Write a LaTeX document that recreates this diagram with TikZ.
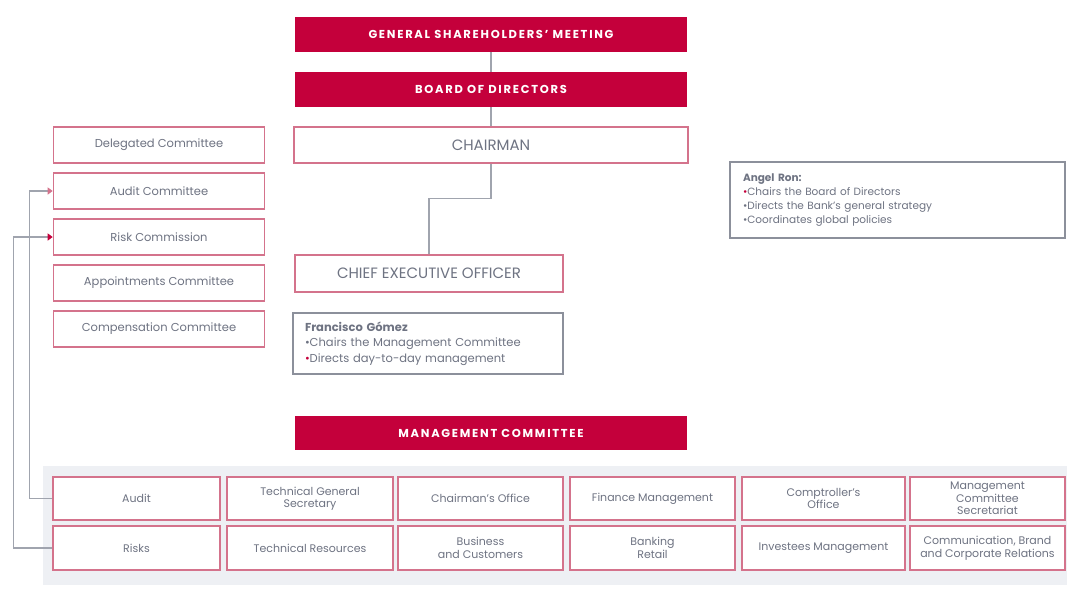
\documentclass[tikz,border=0pt]{standalone}
\usepackage{fontspec}
\setmainfont{Poppins}
\usetikzlibrary{arrows.meta}
\definecolor{bpred}{HTML}{C4003B}
\definecolor{bppink}{HTML}{D4738C}
\definecolor{bpgray}{HTML}{6E7382}
\definecolor{bpline}{HTML}{A0A4AE}
\definecolor{bpnote}{HTML}{8C909B}
\definecolor{bpband}{HTML}{EEF0F4}
\tikzstyle{head} = [rectangle, minimum width=392pt, minimum height=35pt, text centered, fill=bpred, text=white, font=\bfseries\fontsize{11.5}{13}\selectfont\addfontfeature{LetterSpace=15}]
\tikzstyle{pinkbox} = [rectangle, draw=bppink, fill=white, line width=1.6pt, text=bpgray, align=center]
\tikzstyle{topbox} = [pinkbox, minimum width=394pt, minimum height=36pt, font=\fontsize{15}{17}\selectfont]
\tikzstyle{combox} = [pinkbox, minimum width=211pt, minimum height=36pt, font=\fontsize{11.5}{13}\selectfont]
\tikzstyle{unit} = [pinkbox, minimum height=43pt, inner xsep=2pt, font=\fontsize{11}{12.5}\selectfont]
\tikzstyle{note} = [rectangle, draw=bpnote, fill=white, line width=1.6pt, text=bpgray, align=left, inner ysep=4pt]
\tikzstyle{link} = [draw=bpline, line width=1.1pt]
\tikzstyle{arrow} = [link, -{Triangle[width=7pt,length=5pt]}]

\begin{document}
\begin{tikzpicture}[x=1pt, y=-1pt, node distance=46pt]
\useasboundingbox (0,0) rectangle (1067,590);

%band behind the units
\fill [bpband] (43,466) rectangle (1067,585);

%governing bodies
\node (gsm) [head] at (491,34.5) {GENERAL SHAREHOLDERS' MEETING};
\node (board) [head, below of=gsm, yshift=-9pt] {BOARD OF DIRECTORS};
\node (chair) [topbox, below of=board, yshift=-9.5pt] {CHAIRMAN};
\node (ceo) [topbox, minimum width=268pt, minimum height=37pt] at (429,273.5) {CHIEF EXECUTIVE OFFICER};
\node (mc) [head, minimum height=34pt] at (491,433) {MANAGEMENT COMMITTEE};

%notes
\node (chairnote) [note, minimum width=335pt, minimum height=76pt, text width=309pt, font=\fontsize{10.5}{14}\selectfont] at (897.5,200)
  {\textbf{Angel Ron:}\\ \textcolor{bpred}{\textbullet}Chairs the Board of Directors\\ \textbullet Directs the Bank's general strategy\\ \textbullet Coordinates global policies};
\node (ceonote) [note, minimum width=270pt, minimum height=61pt, text width=246pt, font=\fontsize{11.5}{15.5}\selectfont] at (428,343.5)
  {\textbf{Francisco Gómez}\\ \textbullet Chairs the Management Committee\\ \textcolor{bpred}{\textbullet}Directs day-to-day management};

%board committees
\node (delcom) [combox] at (159,145) {Delegated Committee};
\node (auditcom) [combox, below of=delcom] {Audit Committee};
\node (riskcom) [combox, below of=auditcom] {Risk Commission};
\node (appcom) [combox, below of=riskcom] {Appointments Committee};
\node (compcom) [combox, below of=appcom] {Compensation Committee};

%units, first row
\node (audit) [unit, minimum width=167pt] at (136.5,498.5) {Audit};
\node (techsec) [unit, minimum width=166pt] at (310,498.5) {Technical General\\ Secretary};
\node (choffice) [unit, minimum width=165pt] at (480.5,498.5) {Chairman's Office};
\node (finance) [unit, minimum width=165pt] at (652.5,498.5) {Finance Management};
\node (comptroller) [unit, minimum width=163pt] at (823.5,498.5) {Comptroller's\\ Office};
\node (mcsec) [unit, minimum width=155pt] at (987.5,498.5) {Management\\ Committee\\ Secretariat};
%units, second row
\node (risks) [unit, minimum width=167pt, minimum height=44pt] at (136.5,548) {Risks};
\node (techres) [unit, minimum width=166pt, minimum height=44pt] at (310,548) {Technical Resources};
\node (business) [unit, minimum width=165pt, minimum height=44pt] at (480.5,548) {Business\\ and Customers};
\node (retail) [unit, minimum width=165pt, minimum height=44pt] at (652.5,548) {Banking\\ Retail};
\node (investees) [unit, minimum width=163pt, minimum height=44pt] at (823.5,548) {Investees Management};
\node (comm) [unit, minimum width=155pt, minimum height=44pt] at (987.5,548) {Communication, Brand\\ and Corporate Relations};

%links
\draw [link] (gsm) -- (board);
\draw [link] (board) -- (chair);
\draw [link] (chair.south) -- ++(0,35) -| (ceo.north);
\draw [arrow, -{Triangle[width=7pt,length=5pt,color=bppink]}] (audit.west) -- ++(-23,0) |- (auditcom.west);
\draw [arrow, -{Triangle[width=7pt,length=5pt,color=bpred]}] (risks.west) -- ++(-39,0) |- (riskcom.west);

\end{tikzpicture}
\end{document}
